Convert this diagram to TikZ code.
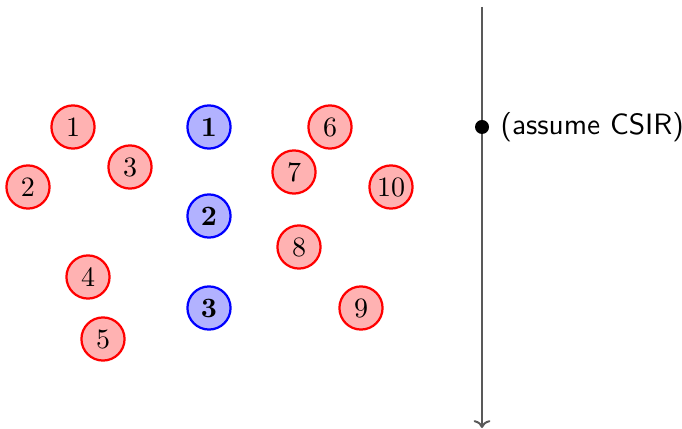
\documentclass[tikz,border=0pt]{standalone}
\usetikzlibrary{arrows.meta}
\tikzset{
  rnode/.style={circle,draw=red,fill=red!30,line width=0.8pt,minimum size=15.4pt,inner sep=0.5pt},
  bnode/.style={circle,draw=blue,fill=blue!30,line width=0.8pt,minimum size=15.4pt,inner sep=0.5pt,font=\bfseries},
  axis/.style={draw=black!65,line width=0.7pt,-{To[length=2.8pt,width=6pt]}},
}
\begin{document}
\begin{tikzpicture}[x=0.3571pt,y=-0.3571pt]
\useasboundingbox (0,0) rectangle (682,429);
\node[rnode] (r1) at (73,127) {1};
\node[rnode] (r2) at (28,187) {2};
\node[rnode] (r3) at (130,167) {3};
\node[rnode] (r4) at (88,277) {4};
\node[rnode] (r5) at (103,339) {5};
\node[bnode] (b1) at (209,127) {1};
\node[bnode] (b2) at (209,216) {2};
\node[bnode] (b3) at (209,308) {3};
\node[rnode] (r6) at (330,127) {6};
\node[rnode] (r7) at (294,172) {7};
\node[rnode] (r8) at (299,247) {8};
\node[rnode] (r9) at (361,308) {9};
\node[rnode] (r10) at (391,187) {10};
\coordinate (top) at (482,7);
\coordinate (bot) at (482,428);
\draw[axis] (top) -- (bot);
\node[circle,fill=black,minimum size=5pt,inner sep=0pt] (dot) at (482,127) {};
\node[anchor=west,font=\sffamily\fontsize{10.5}{12}\selectfont,inner sep=0pt] (lbl) at (500,127) {(assume CSIR)};
\end{tikzpicture}
\end{document}
